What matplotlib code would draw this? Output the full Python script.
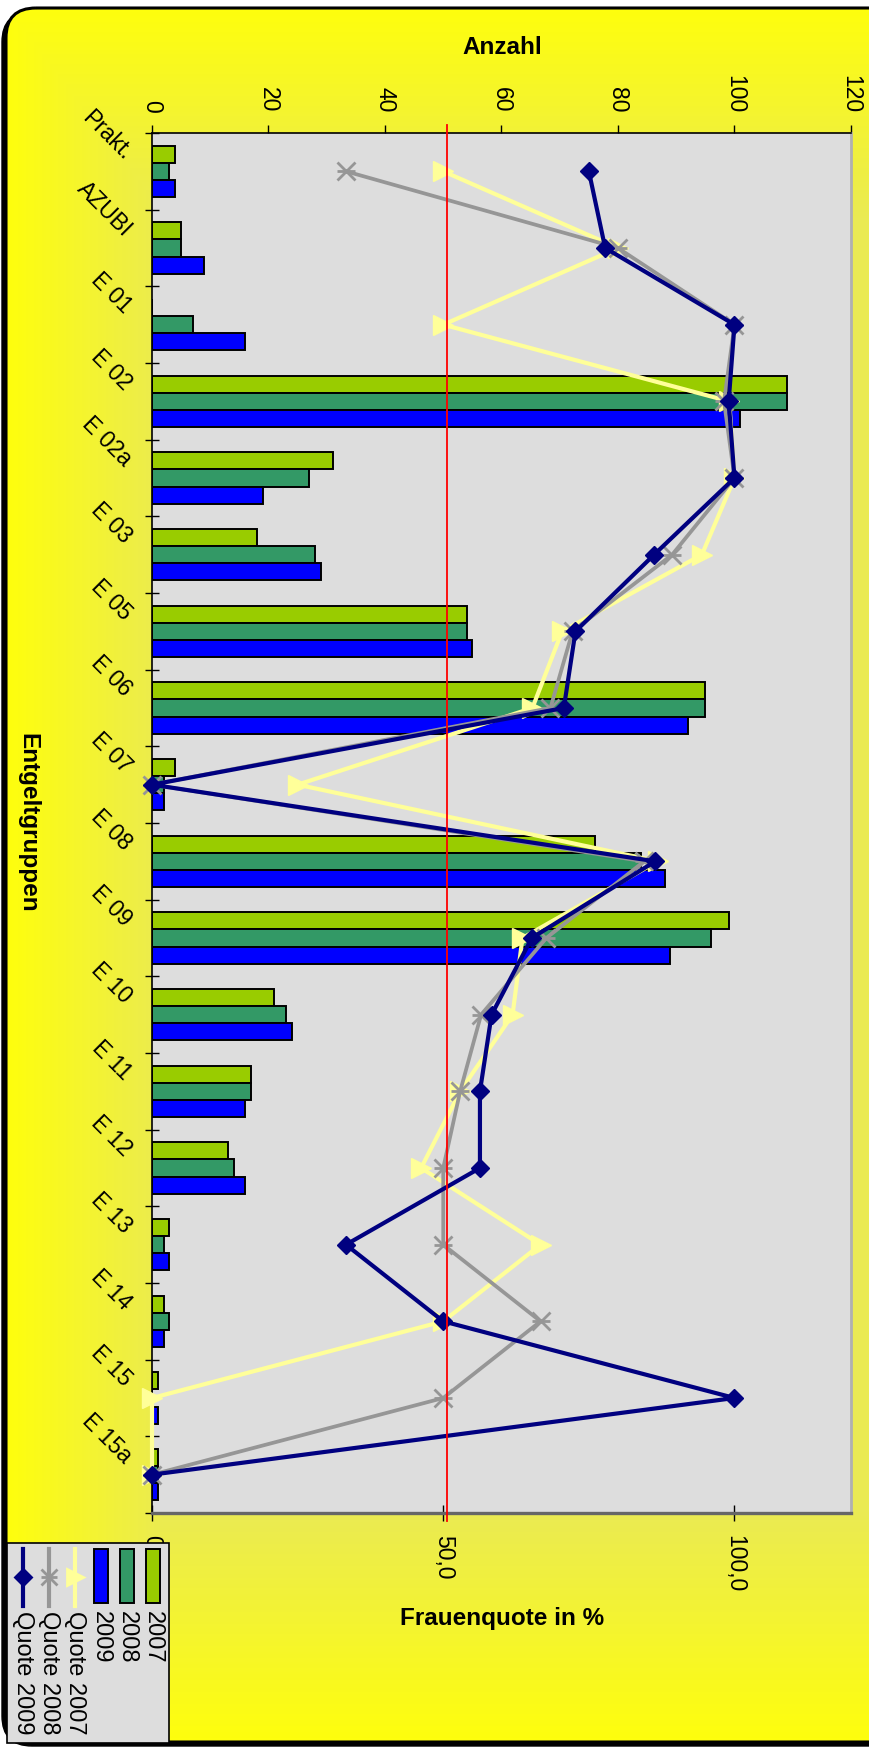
import numpy as np
import matplotlib.pyplot as plt
from matplotlib.patches import FancyBboxPatch, Rectangle
from matplotlib.transforms import ScaledTranslation

plt.rcParams['font.family'] = ['Liberation Sans', 'DejaVu Sans']

# Daten
categories = ["Prakt.", "AZUBI", "E 01", "E 02", "E 02a", "E 03", "E 05", "E 06", "E 07",
              "E 08", "E 09", "E 10", "E 11", "E 12", "E 13", "E 14", "E 15", "E 15a"]
anzahl_2007 = [4, 5, 0, 109, 31, 18, 54, 95, 4, 76, 99, 21, 17, 13, 3, 2, 1, 1]
anzahl_2008 = [3, 5, 7, 109, 27, 28, 54, 95, 2, 84, 96, 23, 17, 14, 2, 3, 0, 1]
anzahl_2009 = [4, 9, 16, 101, 19, 29, 55, 92, 2, 88, 89, 24, 16, 16, 3, 2, 1, 1]
quote_2007 = [50.0, 80.0, 50.0, 99.1, 100.0, 94.4, 70.4, 65.3, 25.0, 86.8, 63.6, 61.9,
              52.9, 46.2, 66.7, 50.0, 0.0, 0.0]
quote_2008 = [33.3, 80.0, 100.0, 98.2, 100.0, 89.3, 72.2, 68.4, 0.0, 84.5, 67.7, 56.5,
              52.9, 50.0, 50.0, 66.7, 50.0, 0.0]
quote_2009 = [75.0, 77.8, 100.0, 99.0, 100.0, 86.2, 72.7, 70.7, 0.0, 86.4, 65.2, 58.3,
              56.3, 56.3, 33.3, 50.0, 100.0, 0.0]
ref_quote = 50.7

bar_names = ["2007", "2008", "2009"]
bar_colors = ["#99CC00", "#339966", "#0000FF"]
quote_names = ["Quote 2007", "Quote 2008", "Quote 2009"]
quote_colors = ["#FFFF99", "#969696", "#000080"]
anzahl_ticks = [0, 20, 40, 60, 80, 100, 120]
quote_ticks = [0, 50, 100]
quote_ticklabels = ["0", "50,0", "100,0"]

W, H = 870, 1748
FS = 16.5
fig = plt.figure(figsize=(W / 100, H / 100), dpi=100)

# Hintergrund mit Verlauf und abgerundetem Rahmen
bg = fig.add_axes([0, 0, 1, 1], zorder=-10)
bg.set_xlim(0, W)
bg.set_ylim(H, 0)
bg.axis('off')
yy, xx = np.mgrid[0:H:2, 0:W:2]
s = np.clip(np.minimum.reduce([xx / 170.0, yy / 220.0, (H - yy) / 240.0]), 0, 1)
bright = np.array([255, 255, 10]) / 255
pale = np.array([234, 234, 84]) / 255
grad = bright + (pale - bright) * s[..., None]
shadow = FancyBboxPatch((2, 12), W + 40, H - 14, boxstyle="round,pad=0,rounding_size=30",
                        facecolor='black', edgecolor='black', lw=1)
bg.add_patch(shadow)
frame = FancyBboxPatch((6, 8), W + 40, H - 14, boxstyle="round,pad=0,rounding_size=30",
                       facecolor='none', edgecolor='black', lw=2.2, zorder=3)
bg.add_patch(frame)
im = bg.imshow(grad, extent=(0, W, H, 0), aspect='auto', zorder=2)
im.set_clip_path(frame)

bg.text(502, 47, "Anzahl", ha='center', va='center', fontsize=17.5, fontweight='bold')
bg.text(502, 1618, "Frauenquote in %", ha='center', va='center', fontsize=17.5, fontweight='bold')
bg.text(28, 823, "Entgeltgruppen", ha='center', va='center', rotation=-90,
        fontsize=17.5, fontweight='bold')

# Hauptdiagramm
L, R, T, B = 152, 851, 133, 1513
ax = fig.add_axes([L / W, 1 - B / H, (R - L) / W, (B - T) / H])
ax.set_facecolor('#DDDDDD')
y = np.arange(len(categories))
bh = 0.224
for i, (vals, col) in enumerate(zip([anzahl_2007, anzahl_2008, anzahl_2009], bar_colors)):
    ax.barh(y + (i - 1) * bh, vals, height=bh, color=col, edgecolor='black',
            linewidth=1.4, zorder=2)
ax.set_xlim(0, 120)
ax.set_ylim(len(categories) - 0.5, -0.5)

# Sekundaerachse Frauenquote
ax2 = ax.twiny()
ax2.set_xlim(0, 120)
ax2.xaxis.tick_bottom()
ax2.set_xticks(quote_ticks)
ax2.set_xticklabels(quote_ticklabels)
ax2.tick_params(axis='x', direction='inout', length=11, width=1, pad=10.5,
                labelsize=FS, labelrotation=-90)
for sp in ('top', 'left', 'right'):
    ax2.spines[sp].set_visible(False)
ax2.spines['bottom'].set_color('#666666')
ax2.spines['bottom'].set_linewidth(2.4)

# Anzahl-Achse oben
ax.xaxis.tick_top()
ax.set_xticks(anzahl_ticks)
ax.tick_params(axis='x', direction='out', length=6, width=1, pad=8.5,
               labelsize=FS, labelrotation=-90)
ax.set_yticks(y)
ax.set_yticklabels(categories)
ax.set_yticks(np.arange(-0.5, len(categories)), minor=True)
ax.tick_params(axis='y', which='major', length=0, pad=0, labelsize=FS)
ax.tick_params(axis='y', which='minor', direction='inout', length=10, width=1)
off = ScaledTranslation(-0.24, 0.15, fig.dpi_scale_trans)
for lab in ax.get_yticklabels():
    lab.set_rotation(-45)
    lab.set_rotation_mode('anchor')
    lab.set_ha('right')
    lab.set_va('center')
    lab.set_transform(lab.get_transform() + off)
ax.spines['bottom'].set_visible(False)
ax.spines['right'].set_color('#B0B0B0')
ax.spines['right'].set_linewidth(2)
ax.spines['top'].set_linewidth(1.2)
ax.spines['left'].set_linewidth(1.2)

ax2.plot(quote_2007, y, color=quote_colors[0], lw=3, marker='>', ms=14,
         zorder=3, clip_on=False)
ax2.plot(quote_2008, y, color=quote_colors[1], lw=2.7, marker='x', ms=13, mew=2,
         zorder=4, clip_on=False)
ax2.plot(quote_2008, y, ls='none', color=quote_colors[1], marker='_', ms=13, mew=2,
         zorder=4, clip_on=False)
ax2.plot(quote_2009, y, color=quote_colors[2], lw=3, marker='D', ms=9.5,
         zorder=5, clip_on=False)
ax2.axvline(ref_quote, ymin=-0.006, ymax=1.006, color='red', lw=1.3, zorder=10, clip_on=False)

# Legende
ov = fig.add_axes([0, 0, 1, 1], zorder=20)
ov.set_xlim(0, W)
ov.set_ylim(H, 0)
ov.axis('off')
ov.add_patch(Rectangle((7, 1543), 162, 200, facecolor='#DDDDDD', edgecolor='black', lw=1.2))
entries = [(n, 'bar', c) for n, c in zip(bar_names, bar_colors)] + \
          [(n, 'line', c) for n, c in zip(quote_names, quote_colors)]
markers = {quote_names[0]: ('>', 12), quote_names[1]: ('x', 11), quote_names[2]: ('D', 8.5)}
for i, (name, kind, col) in enumerate(entries):
    x = 153 - 26 * i
    if kind == 'bar':
        ov.add_patch(Rectangle((x - 7, 1549), 14, 54, facecolor=col, edgecolor='black', lw=1.4))
    else:
        ov.plot([x, x], [1549, 1606], color=col, lw=3)
        m, ms = markers[name]
        ov.plot([x], [1577], marker=m, ms=ms, color=col, mew=2)
        if m == 'x':
            ov.plot([x], [1577], marker='_', ms=ms, color=col, mew=2)
    ov.text(x, 1611, name, rotation=-90, ha='center', va='top', fontsize=17)

fig.savefig("out.png", dpi=100)
